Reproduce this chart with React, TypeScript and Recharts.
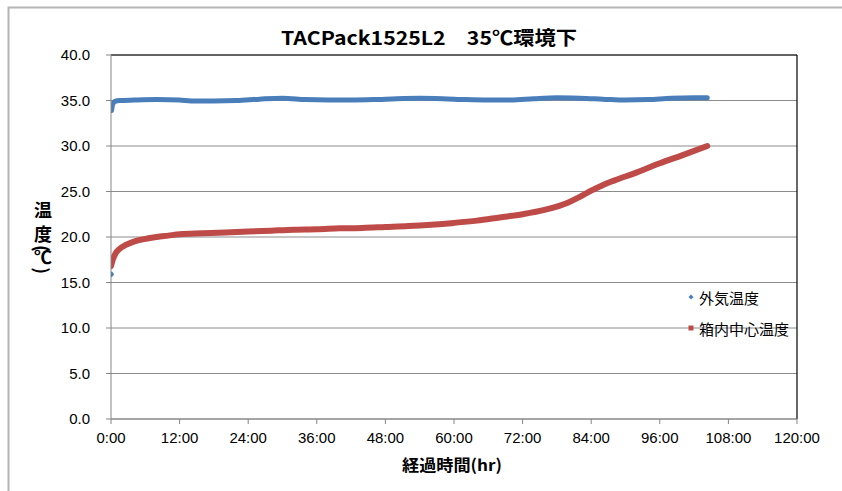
import { CartesianGrid, ComposedChart, Line, ReferenceLine, XAxis, YAxis } from "recharts";

const title = "TACPack1525L2　35℃環境下";
const xAxisTitle = "経過時間(hr)";
const yAxisChars = ["温", "度", "(", "℃", ")"];
const seriesNames = ["外気温度", "箱内中心温度"];
const seriesColors = ["#4a7ebb", "#be4b48"];

const xTicks = [0, 12, 24, 36, 48, 60, 72, 84, 96, 108, 120];
const yTicks = [0, 5, 10, 15, 20, 25, 30, 35, 40];

// 外気温度: first reading stands alone, then the logger jumps to ambient
const outsideHours = [0, 0.05, 0.1, 0.3, 0.7, 1.5, 4, 8, 12, 14, 18, 22, 26, 30, 34, 38, 42, 46, 50, 54, 58, 62, 66, 70, 74, 78, 82, 86, 90, 94, 98, 102, 104.3];
const outsideTemps = [15.9, null, 33.9, 34.6, 34.9, 35.0, 35.05, 35.1, 35.05, 34.95, 34.95, 35.0, 35.15, 35.25, 35.1, 35.05, 35.05, 35.1, 35.2, 35.25, 35.2, 35.1, 35.05, 35.05, 35.2, 35.3, 35.25, 35.15, 35.05, 35.1, 35.25, 35.3, 35.3];

// 箱内中心温度
const insideHours = [0, 0.3, 0.8, 1.5, 2.5, 4, 6, 8, 10, 12, 16, 20, 24, 28, 32, 36, 40, 44, 48, 52, 56, 60, 64, 68, 72, 76, 80, 82, 84, 86, 88, 92, 96, 100, 104.3];
const insideTemps = [16.8, 17.5, 18.2, 18.7, 19.1, 19.5, 19.8, 20.0, 20.15, 20.3, 20.4, 20.5, 20.6, 20.7, 20.8, 20.85, 20.95, 21.0, 21.1, 21.2, 21.35, 21.55, 21.8, 22.15, 22.5, 23.0, 23.8, 24.4, 25.1, 25.7, 26.2, 27.1, 28.1, 29.0, 30.0];

const outsideData = outsideHours.map((t, i) => ({ t, v: outsideTemps[i] }));
const insideData = insideHours.map((t, i) => ({ t, v: insideTemps[i] }));

const tickFont = { fontFamily: "'Liberation Sans', Arial, sans-serif", fontSize: 15, fill: "#000" };
const jpFont = "'Noto Sans CJK JP', sans-serif";
// top of each stacked character of the vertical axis title
const yAxisCharTops = [201.5, 225.4, 245, 247.7, 267];

function lonePoint(props: any) {
  const { cx, cy, index } = props;
  if (index !== 0 || cx == null || cy == null) return <g key={`d${index}`} />;
  return <path key={`d${index}`} d={`M${cx},${cy - 3}L${cx + 3},${cy}L${cx},${cy + 3}L${cx - 3},${cy}Z`} fill={seriesColors[0]} />;
}

export default function App() {
  return (
    <div style={{ position: "absolute", left: 0, top: 0, width: 842, height: 491, background: "#fff" }}>
      <ComposedChart width={842} height={491} margin={{ top: 55, right: 45, left: 51, bottom: 42 }}>
        <CartesianGrid vertical={false} stroke="#8c8c8c" strokeWidth={1} />
        <XAxis
          type="number"
          dataKey="t"
          domain={[0, 120]}
          ticks={xTicks}
          interval={0}
          height={30}
          tickFormatter={(h) => `${h}:00`}
          tick={tickFont}
          tickSize={5}
          tickMargin={8}
          stroke="#868686"
          allowDataOverflow
        />
        <YAxis
          type="number"
          domain={[0, 40]}
          ticks={yTicks}
          interval={0}
          width={60}
          tickFormatter={(v) => Number(v).toFixed(1)}
          tick={tickFont}
          tickSize={5}
          tickMargin={16}
          stroke="#868686"
        />
        <ReferenceLine y={40} stroke="#000" strokeWidth={1.2} />
        <ReferenceLine x={120} stroke="#000" strokeWidth={1.2} />
        <Line
          data={outsideData}
          dataKey="v"
          type="monotone"
          stroke={seriesColors[0]}
          strokeWidth={5}
          strokeLinecap="round"
          dot={lonePoint}
          activeDot={false}
          connectNulls={false}
          isAnimationActive={false}
        />
        <Line
          data={insideData}
          dataKey="v"
          type="monotone"
          stroke={seriesColors[1]}
          strokeWidth={6}
          strokeLinecap="round"
          dot={false}
          activeDot={false}
          isAnimationActive={false}
        />
      </ComposedChart>
      <svg width={842} height={491} style={{ position: "absolute", left: 0, top: 0, pointerEvents: "none" }}>
        <path d="M8.5,491V7.5H842" fill="none" stroke="#b4b4b4" strokeWidth={2} />
        <text x={429} y={45} textAnchor="middle" fontFamily={jpFont} fontWeight="bold" fontSize={19} textLength={296} lengthAdjust="spacingAndGlyphs">
          {title}
        </text>
        <text x={452} y={471} textAnchor="middle" fontFamily={jpFont} fontWeight="bold" fontSize={16} textLength={100} lengthAdjust="spacingAndGlyphs">
          {xAxisTitle}
        </text>
        <text fontFamily={jpFont} fontWeight="bold" fontSize={18} style={{ writingMode: "vertical-rl" }}>
          {yAxisChars.map((ch, i) => (
            <tspan key={i} x={43} y={yAxisCharTops[i]}>{ch}</tspan>
          ))}
        </text>
        <path d="M691,294.5L693.5,297L691,299.5L688.5,297Z" fill={seriesColors[0]} />
        <text x={699} y={297} fontFamily={jpFont} fontSize={15} dominantBaseline="central">{seriesNames[0]}</text>
        <rect x={688.5} y={325.5} width={5} height={5} fill={seriesColors[1]} />
        <text x={699} y={328} fontFamily={jpFont} fontSize={15} dominantBaseline="central">{seriesNames[1]}</text>
      </svg>
    </div>
  );
}
